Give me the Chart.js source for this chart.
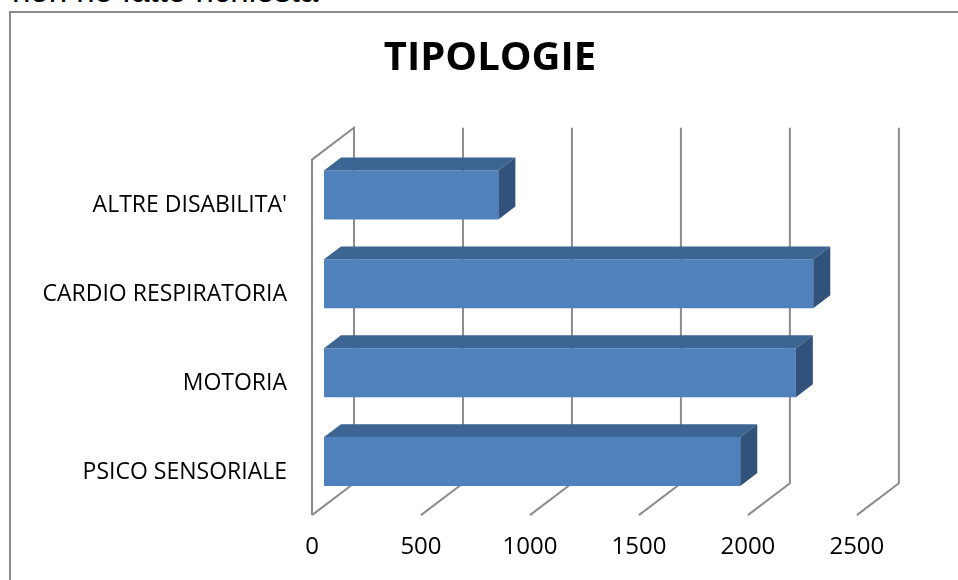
<!DOCTYPE html>
<html>
<head>
<meta charset="utf-8">
<script src="https://cdn.jsdelivr.net/npm/chart.js@4.4.1/dist/chart.umd.min.js"></script>
<style>
  body { margin: 0; background: #fff; overflow: hidden; }
  #wrap { position: relative; width: 958px; height: 580px; overflow: hidden; }
  #note { position: absolute; left: 12px; top: -26px; font: 33px "Liberation Sans", Arial, sans-serif; line-height: 33px; color: #000; white-space: nowrap; }
  #frame { position: absolute; left: 9px; top: 11px; width: 980px; height: 600px; border: 2px solid #8c8c8c; box-sizing: border-box; }
  canvas { position: absolute; left: 0; top: 0; }
</style>
</head>
<body>
<div id="wrap">
  <div id="note">non ho fatto richiesta</div>
  <div id="frame"></div>
  <canvas id="tipChart" width="980" height="580"></canvas>
</div>
<script>
const categories = ["ALTRE DISABILITA'", 'CARDIO RESPIRATORIA', 'MOTORIA', 'PSICO SENSORIALE'];
const counts = [800, 2245, 2165, 1910];
const xTicks = [0, 500, 1000, 1500, 2000, 2500];

// depth of the fake 3d box, in px measured along x (y goes up by 0.76 of it)
const FRONT = -12, BACK = 30, BAR_DEPTH = 17, SLOPE = 0.76;

const box3d = {
    id: 'box3d',
    beforeDatasetsDraw(chart) {
        const { ctx, chartArea: a, scales: { x } } = chart;
        const top = a.top, bottom = a.bottom;
        ctx.save();
        ctx.strokeStyle = '#8c8c8c';
        ctx.lineWidth = 2;
        xTicks.forEach((v, i) => {
            const px = x.getPixelForValue(v);
            ctx.beginPath();
            if (i === 0) {
                // left side wall
                ctx.moveTo(px + FRONT, bottom - FRONT * SLOPE);
                ctx.lineTo(px + FRONT, top - FRONT * SLOPE);
                ctx.lineTo(px + BACK, top - BACK * SLOPE);
                ctx.lineTo(px + BACK, bottom - BACK * SLOPE);
                ctx.lineTo(px + FRONT, bottom - FRONT * SLOPE);
            } else {
                ctx.moveTo(px + BACK, top - BACK * SLOPE);
                ctx.lineTo(px + BACK, bottom - BACK * SLOPE);
                ctx.lineTo(px + FRONT, bottom - FRONT * SLOPE);
            }
            ctx.stroke();
        });
        ctx.restore();
    },
    afterDatasetsDraw(chart) {
        const { ctx } = chart;
        const dx = BAR_DEPTH, dy = BAR_DEPTH * SLOPE;
        chart.getDatasetMeta(0).data.forEach(bar => {
            const { x, y, base, height } = bar.getProps(['x', 'y', 'base', 'height'], true);
            const t = y - height / 2, b = y + height / 2;
            ctx.save();
            // top face
            ctx.fillStyle = '#3c6594';
            ctx.beginPath();
            ctx.moveTo(base, t);
            ctx.lineTo(x, t);
            ctx.lineTo(x + dx, t - dy);
            ctx.lineTo(base + dx, t - dy);
            ctx.closePath();
            ctx.fill();
            // side face
            ctx.fillStyle = '#30527b';
            ctx.beginPath();
            ctx.moveTo(x, t);
            ctx.lineTo(x + dx, t - dy);
            ctx.lineTo(x + dx, b - dy);
            ctx.lineTo(x, b);
            ctx.closePath();
            ctx.fill();
            ctx.restore();
        });
    }
};

const fontFamily = '"Open Sans", Lato, sans-serif';

new Chart(document.getElementById('tipChart'), {
    type: 'bar',
    data: {
        labels: categories,
        datasets: [{
            data: counts,
            backgroundColor: '#4f81bd',
            borderWidth: 0,
            categoryPercentage: 1,
            barPercentage: 0.55
        }]
    },
    options: {
        indexAxis: 'y',
        responsive: false,
        animation: false,
        events: [],
        layout: { padding: { top: 35, left: 0, right: 0, bottom: 0 } },
        plugins: {
            legend: { display: false },
            tooltip: { enabled: false },
            title: {
                display: true,
                text: 'TIPOLOGIE',
                color: '#000',
                font: { family: fontFamily, size: 40, weight: 'bold', lineHeight: 1.2 },
                padding: { top: 0, bottom: 67.5 }
            }
        },
        scales: {
            x: {
                // canvas runs past the window so the title sits where it did in the original;
                // max is picked so 2500 lands on the last wall line
                min: 0,
                max: 3010,
                afterBuildTicks: s => { s.ticks = xTicks.map(v => ({ value: v })); },
                afterFit: s => { s.height = 74; },
                grid: { display: false, drawTicks: false },
                border: { display: false },
                ticks: {
                    color: '#000',
                    font: { family: fontFamily, size: 24 },
                    padding: 27,
                    labelOffset: FRONT,
                    callback: v => String(v)
                }
            },
            y: {
                afterFit: s => { s.width = 324; },
                grid: { display: false, drawTicks: false },
                border: { display: false },
                ticks: { color: '#000', font: { family: fontFamily, size: 23 }, padding: 37, labelOffset: 11 }
            }
        }
    },
    plugins: [box3d]
});
</script>
</body>
</html>
